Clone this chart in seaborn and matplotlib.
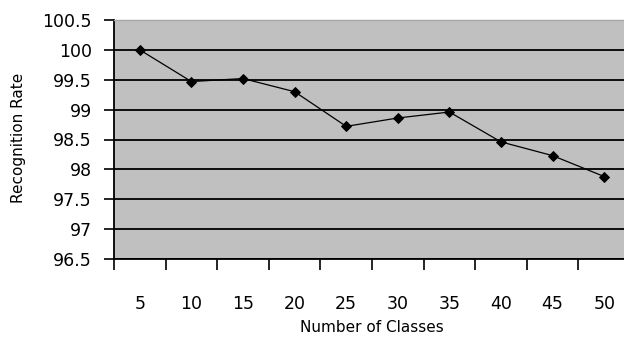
import numpy as np
import matplotlib
matplotlib.use("Agg")
import matplotlib.pyplot as plt
from matplotlib.ticker import FixedLocator, FormatStrFormatter
import seaborn as sns

# values
num_classes = ["5", "10", "15", "20", "25", "30", "35", "40", "45", "50"]
recognition_rate = [100.0, 99.47, 99.52, 99.3, 98.72, 98.86, 98.96, 98.46, 98.23, 97.88]
y_ticks = [96.5, 97, 97.5, 98, 98.5, 99, 99.5, 100, 100.5]

sns.set_theme(style="white")
plt.rcParams["font.family"] = ["DejaVu Sans"]
plt.rcParams.update({
    "text.color": "black",
    "axes.labelcolor": "black",
    "xtick.color": "black",
    "ytick.color": "black",
})

fig = plt.figure(figsize=(6.24, 3.37), dpi=100)
# plot area runs a little past the right edge of the image, like the original
ax = fig.add_axes([114 / 624, 78 / 337, 516 / 624, 239 / 337])
ax.set_facecolor("#c0c0c0")

sns.pointplot(x=num_classes, y=recognition_rate, ax=ax, color="black",
              marker="D", markersize=5, linewidth=0.9, errorbar=None)

ax.set_xlim(-0.5, len(num_classes) - 0.5)
ax.set_ylim(96.5, 100.5)
ax.set_yticks(y_ticks)
ax.yaxis.set_major_formatter(FormatStrFormatter("%g"))

# horizontal gridlines in black
ax.grid(axis="y", color="black", linewidth=1.3)
ax.grid(axis="x", visible=False)
ax.set_axisbelow(True)

# tick marks sit between categories, labels under the categories
ax.xaxis.set_minor_locator(FixedLocator(np.arange(-0.5, len(num_classes), 1.0)))
ax.tick_params(axis="x", which="major", length=0, pad=26, labelsize=12.5)
ax.tick_params(axis="x", which="minor", bottom=True, length=8, width=1.2,
               color="black", direction="out")
ax.tick_params(axis="y", which="major", left=True, length=7, width=1.2,
               color="black", direction="out", pad=9, labelsize=12.5)

for side in ["left", "bottom"]:
    ax.spines[side].set_color("black")
    ax.spines[side].set_linewidth(1.3)
ax.spines["top"].set_color("#a8a8a8")
ax.spines["top"].set_linewidth(1.0)
ax.spines["right"].set_visible(False)

ax.set_xlabel("Number of Classes", fontsize=11)
ax.set_ylabel("Recognition Rate", fontsize=11)
ax.xaxis.set_label_coords(0.5, -0.255)
ax.yaxis.set_label_coords(-0.17, 0.505)

fig.savefig("out.png", dpi=100)
plt.close(fig)
